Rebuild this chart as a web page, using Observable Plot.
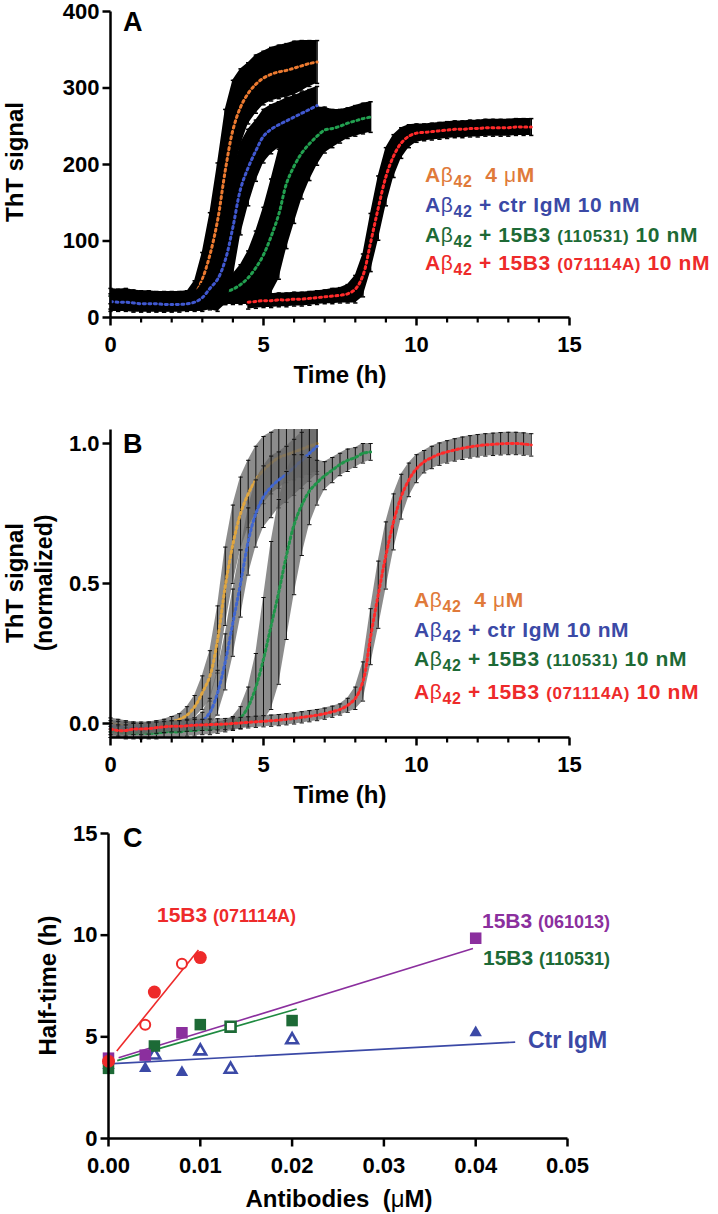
<!DOCTYPE html>
<html><head><meta charset="utf-8">
<script src="https://cdn.jsdelivr.net/npm/d3@7"></script>
<script src="https://cdn.jsdelivr.net/npm/@observablehq/plot@0.6"></script>
<style>
body{margin:0;background:#fff;}
#wrap{position:relative;width:718px;height:1214px;overflow:hidden;background:#fff;}
#wrap > svg{position:absolute;left:0;}
</style></head><body><div id="wrap"></div>
<script>
// ---------- DATA ----------
// sampling times (h)
const hours = [0,0.25,0.5,0.75,1,1.25,1.5,1.75,2,2.25,2.5,2.75,3,3.25,3.5,3.75,4,4.25,4.5,4.75,5,5.25,5.5,5.75,6,6.25,6.5,6.75,7,7.25,7.5,7.75,8,8.25,8.5,8.75,9,9.25,9.5,9.75,10,10.25,10.5,10.75,11,11.25,11.5,11.75,12,12.25,12.5,12.75,13,13.25,13.5,13.75];

// Panel A: ThT signal (mean) and error
const orangeA    = [18,18,18,17,17,17,17,17,18,19,22,30,50,82,127,192,245,275,293,305,313,318,321,323,326,329,332,334];
const orangeAErr = [10,10,10,10,10,10,10,10,10,10,12,18,35,55,75,80,65,50,40,38,35,35,35,35,35,33,30,28];
const blueA      = [21,20,20,19,18,18,18,17,17,17,18,20,26,38,50,75,118,168,196,218,237,246,252,257,262,267,272,277];
const blueAErr   = [10,10,10,10,10,10,10,10,10,10,10,12,18,28,42,58,68,60,50,40,35,32,30,30,28,27,26,25];
const greenA     = [28,27,28,26,25,25,24,24,24,24,25,25,26,27,30,33,37,43,52,65,82,106,135,175,198,215,227,237,245,247,250,254,257,260,262];
const greenAErr  = [10,10,10,10,10,10,10,10,10,10,10,10,10,12,14,16,20,26,35,48,62,75,85,85,75,60,48,38,30,25,22,20,20,20,20];
const redAStartHour = 4.5;
const redA       = [20,21,22,22,23,23,24,24,25,26,27,28,29,31,37,55,98,143,184,211,228,237,241,242,243,244,245,246,246,247,247,248,248,248,248,249,249,249];
const redAErr    = [9,9,9,9,9,9,9,9,9,9,9,10,10,12,18,28,38,42,38,28,20,15,12,11,11,11,11,11,11,11,11,11,11,11,11,11,11,11];

// Panel B: normalized ThT signal and error
const orangeB    = [0,-0.005,-0.01,-0.015,-0.02,-0.015,-0.01,-0.005,0.005,0.015,0.03,0.06,0.11,0.17,0.30,0.49,0.64,0.75,0.82,0.87,0.905,0.93,0.95,0.96,0.97,0.98,0.99,1.0];
const orangeBErr = [0.02,0.02,0.02,0.02,0.02,0.02,0.02,0.02,0.02,0.02,0.03,0.04,0.06,0.09,0.12,0.14,0.14,0.13,0.12,0.12,0.12,0.11,0.11,0.1,0.1,0.1,0.1,0.1];
const blueB      = [-0.01,-0.012,-0.015,-0.015,-0.015,-0.015,-0.015,-0.015,-0.012,-0.01,-0.005,0,0.01,0.04,0.11,0.22,0.36,0.50,0.65,0.75,0.81,0.845,0.87,0.89,0.915,0.94,0.965,0.99];
const blueBErr   = [0.02,0.02,0.02,0.02,0.02,0.02,0.02,0.02,0.02,0.02,0.02,0.02,0.03,0.05,0.08,0.1,0.12,0.12,0.12,0.12,0.11,0.11,0.1,0.1,0.1,0.1,0.1,0.1];
const greenB     = [-0.03,-0.03,-0.035,-0.035,-0.035,-0.035,-0.035,-0.03,-0.03,-0.03,-0.025,-0.025,-0.02,-0.02,-0.015,-0.01,0,0.02,0.06,0.13,0.23,0.35,0.47,0.60,0.71,0.78,0.83,0.86,0.885,0.905,0.925,0.94,0.95,0.965,0.97];
const greenBErr  = [0.02,0.02,0.02,0.02,0.02,0.02,0.02,0.02,0.02,0.02,0.02,0.02,0.02,0.02,0.02,0.02,0.025,0.04,0.07,0.12,0.22,0.3,0.33,0.3,0.25,0.18,0.12,0.08,0.05,0.045,0.04,0.04,0.035,0.035,0.03];
const redB       = [-0.02,-0.025,-0.025,-0.02,-0.02,-0.018,-0.015,-0.012,-0.01,-0.01,-0.008,-0.006,-0.005,-0.004,-0.003,-0.002,0,0.002,0.004,0.006,0.008,0.01,0.012,0.015,0.018,0.022,0.026,0.03,0.035,0.042,0.05,0.065,0.09,0.15,0.31,0.46,0.60,0.72,0.81,0.87,0.91,0.935,0.95,0.962,0.97,0.977,0.983,0.988,0.992,0.995,0.997,0.999,1.0,1.0,0.998,0.995];
const redBErr    = [0.02,0.02,0.02,0.02,0.02,0.02,0.02,0.02,0.02,0.02,0.02,0.02,0.02,0.02,0.02,0.02,0.02,0.02,0.02,0.02,0.02,0.02,0.02,0.02,0.02,0.02,0.02,0.02,0.02,0.02,0.02,0.025,0.04,0.07,0.1,0.12,0.12,0.1,0.08,0.06,0.05,0.04,0.04,0.04,0.04,0.04,0.04,0.04,0.04,0.04,0.04,0.04,0.04,0.04,0.04,0.04];

// Panel C: half-times (h) vs antibody concentration (µM)
const redFilledConc   = [0, 0.005, 0.01];          const redFilledHalf   = [3.8, 7.2, 8.9];
const redOpenConc     = [0.004, 0.008];            const redOpenHalf     = [5.6, 8.6];
const purpleConc      = [0, 0.004, 0.008, 0.04];   const purpleHalf      = [3.95, 4.1, 5.2, 9.85];
const greenFilledConc = [0, 0.005, 0.01, 0.02];    const greenFilledHalf = [3.45, 4.55, 5.6, 5.8];
const greenOpenConc   = [0.0133];                  const greenOpenHalf   = [5.5];
const blueFilledConc  = [0, 0.004, 0.008, 0.04];   const blueFilledHalf  = [3.6, 3.45, 3.25, 5.2];
const blueOpenConc    = [0.005, 0.01, 0.0133, 0.02]; const blueOpenHalf  = [4.1, 4.3, 3.4, 4.85];
// fitted lines: [conc start, half start, conc end, half end]
const redFit    = [0.0009, 4.3, 0.0098, 9.27];
const purpleFit = [0.0011, 3.97, 0.0397, 9.34];
const greenFit  = [0.00095, 3.83, 0.0205, 6.37];
const blueFit   = [0, 3.67, 0.0443, 4.74];

// ticks
const timeMajor = [0,5,10,15];
const timeMinor = [1,2,3,4,6,7,8,9,11,12,13,14];
const ticksA = [0,100,200,300,400];
const ticksB = [0,0.5,1.0];
const concTicks = [0,0.01,0.02,0.03,0.04,0.05];
const halfTicks = [0,5,10,15];

// ---------- DRAWING ----------
const FONT = '"Liberation Sans", Arial, Helvetica, sans-serif';
const COL = {orange:"#E07A3A", blue:"#3B49A6", green:"#1D6A36", red:"#EE2A2A", purple:"#8B2F9E"};
const wrap = document.getElementById("wrap");
const TICK = 8, TICK_MINOR = 5;

function rowsOf(times, vals, errs){ return vals.map((v,i)=>({t:times[i], v, e:errs[i]})); }
const CAP = 0.07;
function kinMarks(d, color, st){
  return [
    Plot.areaY(d,{x:"t", y1:r=>r.v-r.e, y2:r=>r.v+r.e, fill:st.band, fillOpacity:st.bandOp, clip:true}),
    Plot.ruleX(d,{x:"t", y1:r=>r.v-r.e, y2:r=>r.v+r.e, stroke:st.bar, strokeWidth:st.barW, clip:true}),
    Plot.link(d,{x1:r=>r.t-CAP, x2:r=>r.t+CAP, y1:r=>r.v+r.e, y2:r=>r.v+r.e, stroke:st.bar, strokeWidth:st.barW, clip:true}),
    Plot.link(d,{x1:r=>r.t-CAP, x2:r=>r.t+CAP, y1:r=>r.v-r.e, y2:r=>r.v-r.e, stroke:st.bar, strokeWidth:st.barW, clip:true}),
    Plot.line(d,{x:"t", y:"v", stroke:color, strokeWidth:st.dotW, strokeDasharray:st.dash, curve:"catmull-rom", clip:true})
  ];
}
// Build a panel whose frame is enlarged by the tick length to the left and bottom,
// so that the outward tick marks are drawn inside the frame.
function panel(o){
  const innerW = o.width - o.ml - o.mr, innerH = o.height - o.mt - o.mb;
  const ux = (o.xDom[1]-o.xDom[0])/innerW, uy = (o.yDom[1]-o.yDom[0])/innerH;
  const x0 = o.xDom[0], y0 = o.yDom[0], x1 = o.xDom[1], y1 = o.yDom[1];
  const xLo = x0 - TICK*ux, yLo = y0 - TICK*uy;
  const marks = [
    ...o.marks,
    Plot.link([0],{x1:()=>x0, x2:()=>x0, y1:()=>y0, y2:()=>y1, stroke:"#000", strokeWidth:2.5}),
    Plot.link([0],{x1:()=>x0, x2:()=>x1, y1:()=>y0, y2:()=>y0, stroke:"#000", strokeWidth:2.5}),
    Plot.link(o.xMajor,{x1:d=>d, x2:d=>d, y1:()=>y0, y2:()=>yLo, stroke:"#000", strokeWidth:2.5}),
    Plot.link(o.yTicks,{x1:()=>x0, x2:()=>xLo, y1:d=>d, y2:d=>d, stroke:"#000", strokeWidth:2.5}),
    Plot.axisX({ticks:o.xMajor, tickSize:0, tickPadding:11, tickFormat:o.xFmt, fontSize:o.fs, fontWeight:"bold", fontFamily:FONT, label:null}),
    Plot.axisY({ticks:o.yTicks, tickSize:0, tickPadding:3, tickFormat:o.yFmt, fontSize:o.fs, fontWeight:"bold", fontFamily:FONT, label:null})
  ];
  if (o.xMinor) marks.push(Plot.link(o.xMinor,{x1:d=>d, x2:d=>d, y1:()=>y0, y2:()=>y0-TICK_MINOR*uy, stroke:"#000", strokeWidth:2.2}));
  return Plot.plot({
    width:o.width, height:o.height,
    marginLeft:o.ml - TICK, marginRight:o.mr, marginTop:o.mt, marginBottom:o.mb - TICK,
    x:{domain:[xLo, x1]}, y:{domain:[yLo, y1]},
    style:{background:"transparent", overflow:"visible", fontFamily:FONT, color:"#000"},
    marks
  });
}
function place(svg, top){ svg.style.top = top+"px"; wrap.appendChild(svg); return svg; }
function addText(svg, x, y, parts, opt={}){
  const t = d3.select(svg).append("text").attr("x",x).attr("y",y)
    .attr("text-anchor", opt.anchor||"start").attr("font-family",FONT).attr("xml:space","preserve");
  if (opt.rotate) t.attr("transform",`rotate(${opt.rotate},${x},${y})`);
  if (opt.ls) t.attr("letter-spacing", opt.ls);
  for (const p of parts){
    const s = t.append("tspan").text(p.t).attr("fill",p.c||"#000").attr("font-size",p.s).attr("font-weight",p.w||"bold");
    if (p.dy) s.attr("dy",p.dy);
  }
}
function legend(svg, x, ys){
  const rows = [
    {c:COL.orange, rest:[{t:"  4 "},{t:"μ",w:"normal"},{t:"M"}]},
    {c:COL.blue,   rest:[{t:" + ctr IgM 10 nM"}]},
    {c:COL.green,  rest:[{t:" + 15B3 "},{t:"(110531)",s:17},{t:" 10 nM"}]},
    {c:COL.red,    rest:[{t:" + 15B3 "},{t:"(071114A)",s:17},{t:" 10 nM"}]}
  ];
  rows.forEach((r,i)=>{
    const parts=[{t:"A",s:21,c:r.c},{t:"β",s:21,w:"normal",c:r.c},{t:"42",s:16,dy:5,c:r.c}];
    r.rest.forEach((p,j)=>parts.push({t:p.t,s:p.s||21,w:p.w,c:r.c,dy:j===0?-5:0}));
    addText(svg, x, ys[i], parts, {ls:0.6});
  });
}

// ----- Panel A -----
const stA = {band:"#000", bandOp:1, bar:"#000", barW:1.5, dotW:3, dash:"2 3.5"};
const svgA = panel({
  width:718, height:400, ml:110, mr:149, mt:11, mb:83, xDom:[0,15], yDom:[0,400],
  xMajor:timeMajor, xMinor:timeMinor, yTicks:ticksA, fs:22,
  marks:[
    ...kinMarks(rowsOf(hours, orangeA, orangeAErr), "#EC7A30", stA),
    ...kinMarks(rowsOf(hours, greenA, greenAErr), "#22A050", stA),
    ...kinMarks(rowsOf(hours, blueA, blueAErr), "#4058D0", stA),
    ...kinMarks(rowsOf(hours.slice(hours.indexOf(redAStartHour)), redA, redAErr), "#FF2A2A", stA)
  ]
});
place(svgA, 0);
addText(svgA, 123, 31, [{t:"A", s:27}]);
addText(svgA, 23, 162, [{t:"ThT signal", s:24}], {anchor:"middle", rotate:-90});
addText(svgA, 340, 383, [{t:"Time (h)", s:24}], {anchor:"middle"});
legend(svgA, 425, [182,212,242,270]);

// ----- Panel B -----
const stB = {band:"#666", bandOp:0.75, bar:"#111", barW:1, dotW:3, dash:"2 3"};
const svgB = panel({
  width:718, height:400, ml:110, mr:149, mt:29, mb:63, xDom:[0,15], yDom:[-0.05,1.05],
  xMajor:timeMajor, xMinor:timeMinor, yTicks:ticksB, yFmt:d3.format(".1f"), fs:22,
  marks:[
    ...kinMarks(rowsOf(hours, orangeB, orangeBErr), "#E0A640", stB),
    ...kinMarks(rowsOf(hours, blueB, blueBErr), "#4066D0", stB),
    ...kinMarks(rowsOf(hours, greenB, greenBErr), "#20954A", stB),
    ...kinMarks(rowsOf(hours, redB, redBErr), "#FF2A2A", stB)
  ]
});
place(svgB, 400);
addText(svgB, 123, 53, [{t:"B", s:27}]);
addText(svgB, 23, 183, [{t:"ThT signal", s:24}], {anchor:"middle", rotate:-90});
addText(svgB, 52, 183, [{t:"(normalized)", s:23}], {anchor:"middle", rotate:-90});
addText(svgB, 340, 403, [{t:"Time (h)", s:24}], {anchor:"middle"});
legend(svgB, 414, [207,237,266,299]);

// ----- Panel C -----
const pts = (xs, ys) => xs.map((x,i)=>({x, y:ys[i]}));
const fit = (f, c) => Plot.link([f], {x1:d=>d[0], y1:d=>d[1], x2:d=>d[2], y2:d=>d[3], stroke:c, strokeWidth:1.6});
const svgC = panel({
  width:718, height:414, ml:108, mr:151, mt:33, mb:76, xDom:[0,0.05], yDom:[0,15],
  xMajor:concTicks, xFmt:d3.format(".2f"), yTicks:halfTicks, fs:22,
  marks:[
    fit(blueFit, COL.blue), fit(greenFit, "#1E8A40"), fit(purpleFit, COL.purple), fit(redFit, COL.red),
    Plot.dot(pts(blueFilledConc, blueFilledHalf), {x:"x", y:"y", symbol:"triangle", r:4.6, fill:COL.blue}),
    Plot.dot(pts(blueOpenConc, blueOpenHalf), {x:"x", y:"y", symbol:"triangle", r:4.3, fill:"white", stroke:COL.blue, strokeWidth:2.6}),
    Plot.dot(pts(greenFilledConc, greenFilledHalf), {x:"x", y:"y", symbol:"square", r:6.5, fill:COL.green}),
    Plot.dot(pts(greenOpenConc, greenOpenHalf), {x:"x", y:"y", symbol:"square", r:5.6, fill:"white", stroke:COL.green, strokeWidth:2.6}),
    Plot.dot(pts(purpleConc, purpleHalf), {x:"x", y:"y", symbol:"square", r:6.5, fill:COL.purple}),
    Plot.dot(pts(redOpenConc, redOpenHalf), {x:"x", y:"y", r:5, fill:"white", stroke:COL.red, strokeWidth:2}),
    Plot.dot(pts(redFilledConc, redFilledHalf), {x:"x", y:"y", r:6.5, fill:COL.red})
  ]
});
place(svgC, 800);
addText(svgC, 123, 47, [{t:"C", s:27}]);
addText(svgC, 56, 185.5, [{t:"Half-time (h)", s:24}], {anchor:"middle", rotate:-90});
addText(svgC, 339, 407, [{t:"Antibodies  (", s:24},{t:"μ", s:24, w:"normal"},{t:"M)", s:24}], {anchor:"middle"});
addText(svgC, 157, 122, [{t:"15B3 ", s:21, c:COL.red},{t:"(071114A)", s:18, c:COL.red}]);
addText(svgC, 482, 128, [{t:"15B3 ", s:21, c:COL.purple},{t:"(061013)", s:18, c:COL.purple}]);
addText(svgC, 483, 165, [{t:"15B3 ", s:21, c:COL.green},{t:"(110531)", s:18, c:COL.green}]);
addText(svgC, 528, 248, [{t:"Ctr IgM", s:23, c:COL.blue}]);
</script></body></html>
